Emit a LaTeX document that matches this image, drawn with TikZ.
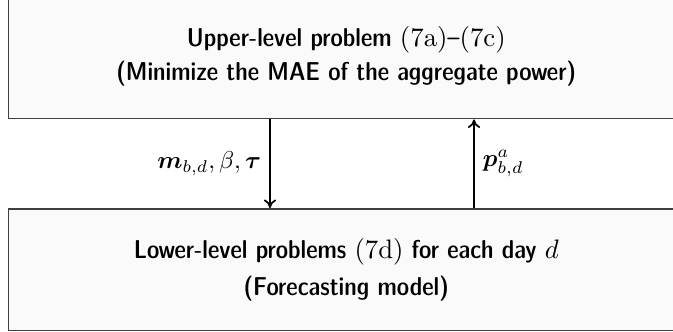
\documentclass[tikz,border=0pt]{standalone}
\usepackage{amsmath,amssymb}
\usepackage{tikz}
\usetikzlibrary{arrows.meta,positioning,calc}
\definecolor{Panel}{HTML}{FAFAFA}
\definecolor{Edge}{HTML}{404040}

\begin{document}
\begin{tikzpicture}[
      x=0.41pt,y=0.41pt,
      level/.style={rectangle,draw=Edge,fill=Panel,line width=0.8pt,inner sep=0pt,
        minimum width=276.96pt,align=center,
        font=\sffamily\fontsize{10.6}{12.7}\fontseries{sbc}\selectfont},
      flow/.style={line width=0.7pt,-{To[length=3.5pt,width=5pt]}}
    ]
      \useasboundingbox (0,0) rectangle (673,332);
      \clip (0,0) rectangle (673,332);
      \node[level,minimum height=50.84pt] (upper) at (346.25,275.5)
        {Upper-level problem $(7\mathrm{a})$--$(7\mathrm{c})$\\[1pt]
         (Minimize the MAE of the aggregate power)};
      \node[level,minimum height=49.8pt] (lower) at (346.25,62.25)
        {Lower-level problems $(7\mathrm{d})$ for each day $d$\\[2.5pt]
         (Forecasting model)};
      \coordinate (down) at (270,0);
      \coordinate (up) at (474,0);
      \draw[flow] (down |- upper.south) -- node[left]
        {$\boldsymbol{m}_{b,d},\beta,\boldsymbol{\tau}$} (down |- lower.north);
      \draw[flow] (up |- lower.north) -- node[right]
        {$\boldsymbol{p}^{a}_{b,d}$} (up |- upper.south);
    \end{tikzpicture}
\end{document}
